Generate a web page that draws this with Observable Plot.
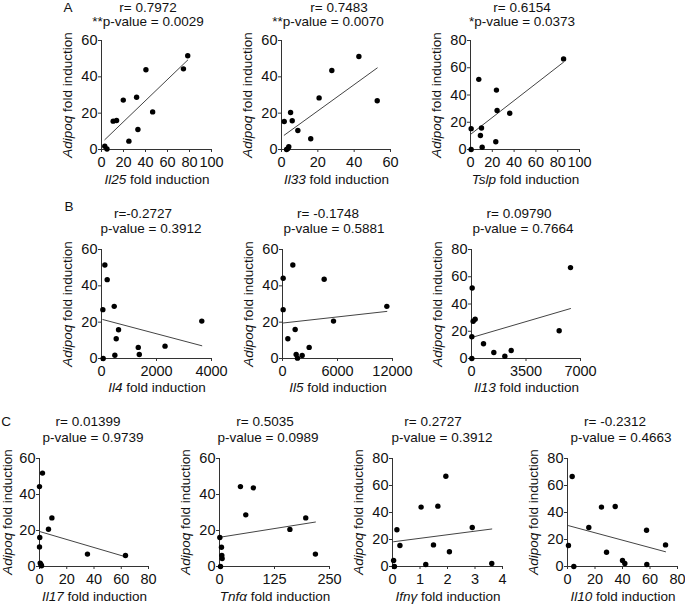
<!DOCTYPE html>
<html><head><meta charset="utf-8">
<script src="https://cdn.jsdelivr.net/npm/d3@7"></script>
<script src="https://cdn.jsdelivr.net/npm/@observablehq/plot@0.6"></script>
<style>
body{margin:0;background:#fff;}
#fig{position:relative;width:685px;height:605px;font-family:"Liberation Sans",Arial,sans-serif;color:#111;overflow:hidden;}
.t{position:absolute;white-space:nowrap;font-size:13.5px;transform:translate(-50%,-50%);line-height:1.05;}
.yl{transform:translate(-50%,-50%) rotate(-90deg);}
.plot{position:absolute;}
</style></head><body><div id="fig"></div>
<script>
// ---- data (Adipoq fold induction vs cytokine fold induction) ----
const il25X = [3, 5, 10.6, 13.7, 19.8, 24.9, 31.9, 33.1, 40.4, 46.5, 74.5, 78.4];
const il25Y = [1.8, 0.3, 15.6, 16, 27.2, 4.6, 28.8, 11, 43.9, 20.7, 44.4, 51.6];
const il33X = [1.5, 2.8, 3.5, 4.0, 5.0, 5.9, 9.0, 16.1, 20.7, 27.7, 42.6, 52.7];
const il33Y = [15.4, 0, 0.5, 1.5, 20.4, 15.8, 10.5, 5.9, 28.4, 43.5, 51.2, 26.8];
const tslpX = [0.6, 0.6, 7.6, 9.1, 10.1, 10.7, 23.2, 23.8, 24.4, 36, 85.4];
const tslpY = [15.3, 0, 51.5, 10.3, 15.8, 1.7, 5.7, 43.6, 28.6, 26.6, 66.5];
const il4X = [61, 49, 122, 207, 462, 620, 535, 486, 1337, 1374, 2310, 3647];
const il4Y = [0, 26.9, 51.5, 43.4, 28.7, 15.8, 10.9, 1.8, 6.1, 2.2, 6.8, 20.6];
const il5X = [73, 73, 1127, 582, 1382, 1491, 1636, 2145, 2909, 4545, 5564, 11382];
const il5Y = [44.2, 26.9, 51.5, 10.9, 16, 2.2, 0.2, 1.7, 6.1, 43.6, 20.6, 28.7];
const il13X = [43, 21, 21, 107, 235, 771, 1434, 2141, 2548, 5631, 6358];
const il13Y = [51.7, 16, 0, 27.3, 28.8, 10.8, 4.4, 1.7, 5.9, 20.4, 66.7];
const il17X = [0, 2.2, 0.2, 0, 0.5, 1, 1.5, 6.6, 9.1, 35.2, 63.1];
const il17Y = [44.4, 51.9, 16.1, 10.9, 1.9, 1.1, 0.4, 20.7, 27, 6.9, 6.1];
const tnfX = [0.8, 2.3, 4.5, 5.3, 6, 47.6, 59.7, 77, 160, 196, 218];
const tnfY = [16.1, 0, 10.7, 6.1, 4.4, 44.4, 28.7, 43.7, 20.6, 27, 6.9];
const ifngX = [0.04, 0.07, 0.16, 0.27, 1.04, 1.21, 1.49, 1.65, 1.94, 2.07, 2.9, 3.61];
const ifngY = [4.4, 0, 27.2, 15.6, 44, 1.5, 16, 44.7, 66.9, 10.9, 28.9, 2.2];
const il10X = [0.7, 3.4, 4.6, 15.5, 24.7, 28.4, 34.7, 40, 41.7, 57.5, 57.7, 71.3];
const il10Y = [15.6, 66.7, 0, 28.9, 44, 10.6, 44.4, 4.4, 2.2, 26.9, 1.5, 16];

// ---- labels / ticks ----
const genes = ["Il25", "Il33", "Tslp", "Il4", "Il5", "Il13", "Il17", "Tnf\u03b1", "Ifn\u03b3", "Il10"];
const rTexts = ["r= 0.7972", "r= 0.7483", "r= 0.6154", "r=-0.2727", "r= -0.1748", "r= 0.09790", "r= 0.01399", "r= 0.5035", "r= 0.2727", "r= -0.2312"];
const pTexts = ["**p-value = 0.0029", "**p-value = 0.0070", "*p-value = 0.0373", "p-value = 0.3912", "p-value = 0.5881", "p-value = 0.7664", "p-value = 0.9739", "p-value = 0.0989", "p-value = 0.3912", "p-value = 0.4663"];
const xTickSets = [[0,20,40,60,80,100],[0,20,40,60],[0,20,40,60,80,100],[0,2000,4000],[0,6000,12000],[0,3500,7000],[0,20,40,60,80],[0,125,250],[0,1,2,3,4],[0,20,40,60,80]];
const yTickSets = [[0,20,40,60],[0,20,40,60],[0,20,40,60,80],[0,20,40,60],[0,20,40,60],[0,20,40,60,80],[0,20,40,60],[0,20,40,60],[0,20,40,60,80],[0,20,40,60,80]];
const panelLetters = ["A", "B", "C"];

const xs = [il25X, il33X, tslpX, il4X, il5X, il13X, il17X, tnfX, ifngX, il10X];
const ys = [il25Y, il33Y, tslpY, il4Y, il5Y, il13Y, il17Y, tnfY, ifngY, il10Y];

// ---- layout (pixel frames) ----
const frames = [
  {fx:101, fy:40, fw:110, fh:109, t1:[148,7.5], t2:[148,21.5], xl:180, yl:68},
  {fx:281, fy:40, fw:109, fh:109, t1:[339,7.5], t2:[328,21.5], xl:180, yl:248},
  {fx:470, fy:40, fw:109, fh:109, t1:[522,7.5], t2:[522,21.5], xl:180, yl:437},
  {fx:101, fy:249, fw:110, fh:109, t1:[143,214], t2:[151,229], xl:388, yl:68},
  {fx:282, fy:249, fw:110, fh:109, t1:[328,214], t2:[334,229], xl:388, yl:249},
  {fx:471, fy:249, fw:109, fh:109, t1:[519,214], t2:[523,229], xl:388, yl:438},
  {fx:39, fy:458, fw:109, fh:108, t1:[88,422], t2:[93,438], xl:597, yl:8},
  {fx:219, fy:458, fw:110, fh:108, t1:[265,422], t2:[268,438], xl:597, yl:186},
  {fx:392, fy:458, fw:110, fh:108, t1:[433,422], t2:[442,438], xl:597, yl:359},
  {fx:567, fy:458, fw:110, fh:108, t1:[615,422], t2:[621,438], xl:597, yl:534}
];
const letterPos = [[68,7.5],[69,207],[6,422]];

const fig = document.getElementById("fig");
function addText(html, x, y, cls) {
  const d = document.createElement("div");
  d.className = "t" + (cls ? " " + cls : "");
  d.innerHTML = html;
  d.style.left = x + "px";
  d.style.top = y + "px";
  fig.appendChild(d);
}

const ml = 34, mr = 18, mt = 8, mb = 26;
frames.forEach((f, i) => {
  const data = xs[i].map((x, j) => ({x, y: ys[i][j]}));
  const xt = xTickSets[i], yt = yTickSets[i];
  const chart = Plot.plot({
    width: f.fw + ml + mr, height: f.fh + mt + mb,
    marginLeft: ml, marginRight: mr, marginTop: mt, marginBottom: mb,
    style: {fontFamily: '"Liberation Sans", Arial, sans-serif', fontSize: "14.5px", color: "#111", background: "transparent", overflow: "visible"},
    x: {domain: [xt[0], xt[xt.length - 1]]},
    y: {domain: [yt[0], yt[yt.length - 1]]},
    marks: [
      Plot.axisX({ticks: xt, tickSize: 3, tickPadding: 4, label: null, tickFormat: d => String(d), stroke: "#333", fill: "#111"}),
      Plot.axisY({ticks: yt, tickSize: 3, tickPadding: 1, label: null, tickFormat: d => String(d), stroke: "#333", fill: "#111"}),
      Plot.ruleX([xt[0]], {stroke: "#333"}),
      Plot.ruleY([yt[0]], {stroke: "#333"}),
      Plot.linearRegressionY(data, {x: "x", y: "y", ci: 0, stroke: "#444", strokeWidth: 1}),
      Plot.dot(data, {x: "x", y: "y", r: 2.7, fill: "#000", stroke: null})
    ]
  });
  chart.classList.add("plot");
  chart.style.left = (f.fx - ml) + "px";
  chart.style.top = (f.fy - mt) + "px";
  fig.appendChild(chart);
  addText(rTexts[i], f.t1[0], f.t1[1]);
  addText(pTexts[i], f.t2[0], f.t2[1]);
  addText("<i>Adipoq</i> fold induction", f.yl, f.fy + f.fh / 2, "yl");
  addText("<i>" + genes[i] + "</i> fold induction", f.fx + f.fw / 2 + 1, f.xl);
});
panelLetters.forEach((l, i) => addText(l, letterPos[i][0], letterPos[i][1]));
</script>
</body></html>
